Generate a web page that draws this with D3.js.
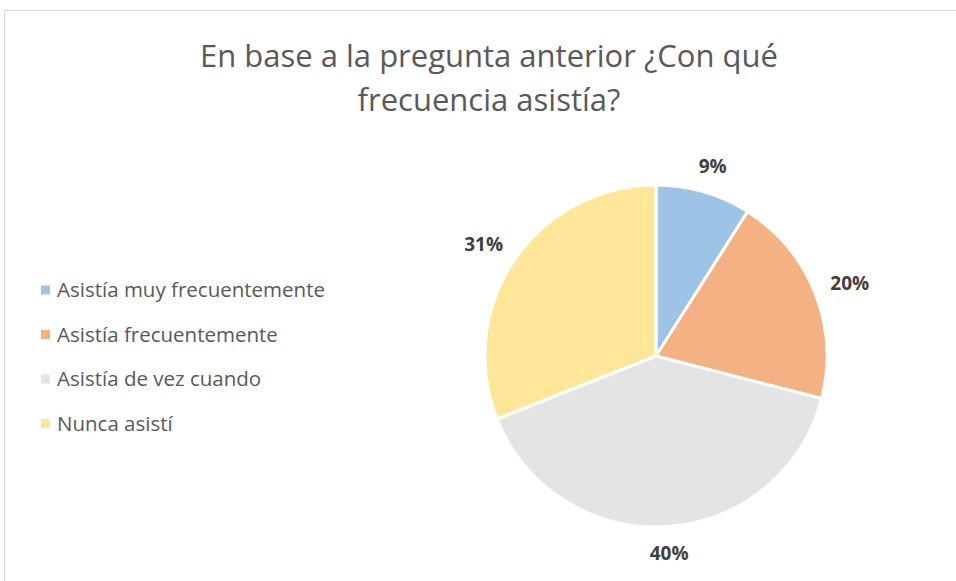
<!DOCTYPE html>
<html lang="es">
<head>
<meta charset="UTF-8">
<title>Frecuencia de asistencia</title>
<script src="https://d3js.org/d3.v7.min.js"></script>
<style>
  body { margin: 0; background: #fff; }
  text { font-family: "Open Sans", Lato, sans-serif; }
  .title { font-size: 31px; fill: #595959; text-anchor: middle; }
  .legend text { font-size: 20.5px; fill: #595959; }
  .label { font-size: 19px; font-weight: bold; fill: #404040; text-anchor: middle; }
</style>
</head>
<body>
<script>
  var categories = ["Asistía muy frecuentemente", "Asistía frecuentemente", "Asistía de vez cuando", "Nunca asistí"];
  var values = [9, 20, 40, 31];
  var colors = ["#9dc3e6", "#f4b183", "#e4e4e4", "#ffe699"];
  var titleLines = ["En base a la pregunta anterior ¿Con qué", "frecuencia asistía?"];

  var svg = d3.select("body").append("svg")
              .attr("width", 956).attr("height", 581);

  // chart frame
  svg.append("rect")
     .attr("x", 4.5).attr("y", 10.5)
     .attr("width", 1000).attr("height", 700)
     .attr("fill", "#fff").attr("stroke", "#d9d9d9").attr("stroke-width", 1);

  svg.selectAll("text.title").data(titleLines).enter()
     .append("text").attr("class", "title")
     .attr("x", 489)
     .attr("y", function(d, i) { return 67 + i * 44; })
     .text(function(d) { return d; });

  var data = categories.map(function(c, i) { return {name: c, value: values[i], color: colors[i]}; });

  var cx = 656, cy = 356, r = 171, gap = 18;
  var pie = d3.pie().sort(null).value(function(d) { return d.value; });
  var arc = d3.arc().innerRadius(0).outerRadius(r);

  var g = svg.append("g").attr("transform", "translate(" + cx + "," + cy + ")");
  var arcs = pie(data);

  g.selectAll("path").data(arcs).enter().append("path")
   .attr("d", arc)
   .attr("fill", function(d) { return d.data.color; })
   .attr("stroke", "#fff").attr("stroke-width", 3)
   .attr("stroke-linejoin", "round");

  // labels outside the edge: push the text box out along the mid angle
  g.selectAll("text.label").data(arcs).enter().append("text")
   .attr("class", "label")
   .attr("dy", "0.35em")
   .text(function(d) { return d.data.value + "%"; })
   .each(function(d) {
     var a = (d.startAngle + d.endAngle) / 2;
     var s = Math.sin(a), c = Math.cos(a);
     var w = this.getComputedTextLength(), h = 18;
     var x = s * (r + gap) + s * w / 2;
     var y = -c * (r + gap) - c * h / 2;
     d3.select(this).attr("x", x).attr("y", y);
   });

  var legend = svg.append("g").attr("class", "legend");
  var rows = legend.selectAll("g").data(data).enter().append("g")
     .attr("transform", function(d, i) { return "translate(41," + (290 + i * 44.5) + ")"; });
  rows.append("rect").attr("x", 0).attr("y", -4.5).attr("width", 9).attr("height", 9)
      .attr("fill", function(d) { return d.color; });
  rows.append("text").attr("x", 16).attr("dy", "0.35em")
      .text(function(d) { return d.name; });
</script>
</body>
</html>
